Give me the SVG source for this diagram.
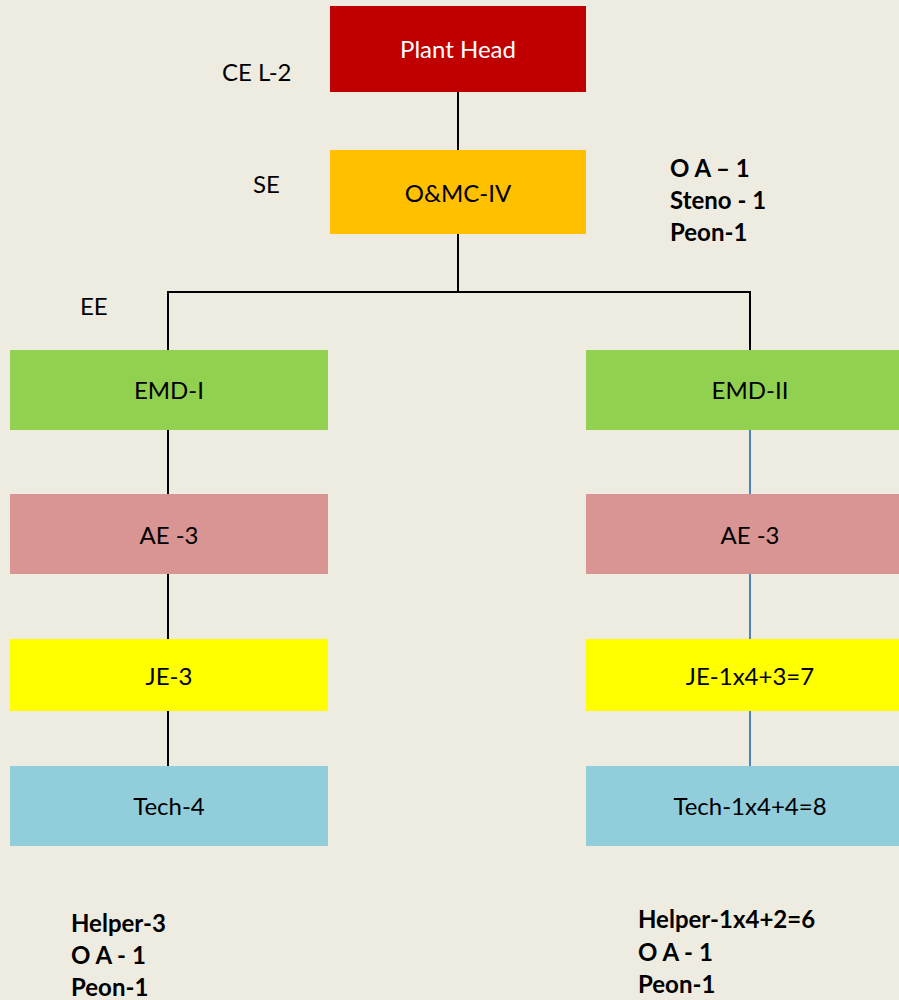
<svg xmlns="http://www.w3.org/2000/svg" width="899" height="1000" viewBox="0 0 899 1000">
<style>
.t{font-family:Lato,"Liberation Sans",sans-serif;font-size:24px;fill:#000;text-anchor:middle}
.l{font-family:Lato,"Liberation Sans",sans-serif;font-size:24px;fill:#000}
.b{font-family:Lato,"Liberation Sans",sans-serif;font-size:24px;font-weight:bold;fill:#000}
.k{fill:none;stroke:#000;stroke-width:2}
.u{fill:none;stroke:#4F81BD;stroke-width:2}
</style>
<rect width="899" height="1000" fill="#EEECE1"/>
<g id="connectors">
<path class="k" d="M458 92V150M458 234V292M168 350V292H750V350"/>
<path class="k" d="M168 430V494M168 574V639M168 711V766"/>
<path class="u" d="M750 430V494M750 574V639M750 711V766"/>
</g>
<g id="plant-head"><rect x="330" y="6" width="256" height="86" fill="#C00000"/><text class="t" x="458" y="58" style="fill:#fff">Plant Head</text></g>
<g id="omc"><rect x="330" y="150" width="256" height="84" fill="#FFC000"/><text class="t" x="458" y="202">O&amp;MC-IV</text></g>
<g id="emd1"><rect x="10" y="350" width="318" height="80" fill="#92D050"/><text class="t" x="169" y="399">EMD-I</text></g>
<g id="emd2"><rect x="586" y="350" width="313" height="80" fill="#92D050"/><text class="t" x="750" y="399">EMD-II</text></g>
<g id="ae1"><rect x="10" y="494" width="318" height="80" fill="#D99594"/><text class="t" x="169" y="544">AE -3</text></g>
<g id="ae2"><rect x="586" y="494" width="313" height="80" fill="#D99594"/><text class="t" x="750" y="544">AE -3</text></g>
<g id="je1"><rect x="10" y="639" width="318" height="72" fill="#FFFF00"/><text class="t" x="169" y="685">JE-3</text></g>
<g id="je2"><rect x="586" y="639" width="313" height="72" fill="#FFFF00"/><text class="t" x="750" y="685">JE-1x4+3=7</text></g>
<g id="tech1"><rect x="10" y="766" width="318" height="80" fill="#92CDDC"/><text class="t" x="169" y="815">Tech-4</text></g>
<g id="tech2"><rect x="586" y="766" width="313" height="80" fill="#92CDDC"/><text class="t" x="750" y="815">Tech-1x4+4=8</text></g>
<g id="labels">
<text class="l" x="222" y="81">CE L-2</text>
<text class="l" x="253" y="193">SE</text>
<text class="l" x="80" y="315">EE</text>
</g>
<g id="staff-top"><text class="b" x="670" y="177">O A – 1</text><text class="b" x="670" y="209">Steno - 1</text><text class="b" x="670" y="241">Peon-1</text></g>
<g id="staff-left"><text class="b" x="71" y="932">Helper-3</text><text class="b" x="71" y="964">O A - 1</text><text class="b" x="71" y="996">Peon-1</text></g>
<g id="staff-right"><text class="b" x="638" y="928">Helper-1x4+2=6</text><text class="b" x="638" y="961">O A - 1</text><text class="b" x="638" y="993">Peon-1</text></g>
</svg>
